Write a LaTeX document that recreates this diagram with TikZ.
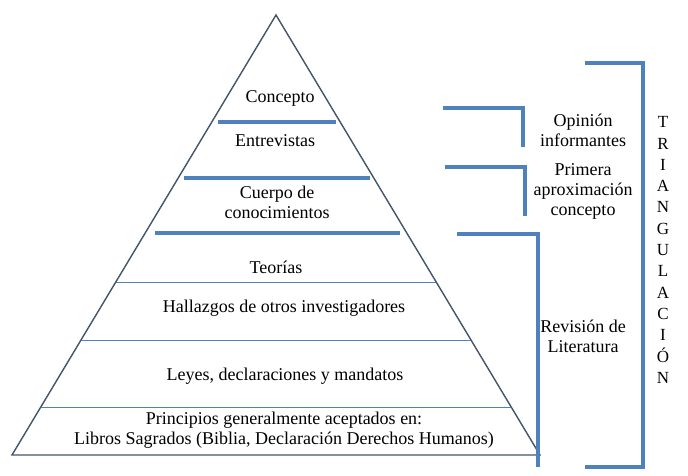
\documentclass[tikz,border=0pt]{standalone}
\usepackage{fontspec}
\setmainfont{Liberation Serif}
\definecolor{pyr}{RGB}{68,84,106}
\definecolor{brk}{RGB}{79,129,189}
\begin{document}
\begin{tikzpicture}[x=1pt,y=-1pt,every node/.style={inner sep=0,align=center,font=\fontsize{18}{20}\selectfont},
    thin line/.style={draw=brk,line width=0.8pt},
    thick line/.style={draw=brk,line width=4pt},
    bracket/.style={draw=brk,line width=4.5pt}]
    \useasboundingbox (0,0) rectangle (688,476);
    % pyramid
    \coordinate (apex) at (276,15);
    \coordinate (bl) at (12,455);
    \coordinate (br) at (540,455);
    \draw[pyr,line width=1.4pt] (apex) -- (bl) -- (br) -- cycle;
    \draw[thick line] (218,122) -- (336,122);
    \draw[thick line] (184,178) -- (370,178);
    \draw[thick line] (155,233) -- (400,233);
    \draw[thin line] (116,282) -- (436,282);
    \draw[thin line] (81,340) -- (471,340);
    \draw[thin line] (41,407) -- (511,407);
    % levels
    \node (concepto) at (280,98) {Concepto};
    \node (entrev) at (275,141) {Entrevistas};
    \node (cuerpo) at (277,202) {Cuerpo de\\conocimientos};
    \node (teorias) at (276,267) {Teorías};
    \node (hallazgos) at (284,308) {Hallazgos de otros investigadores};
    \node (leyes) at (285,376) {Leyes, declaraciones y mandatos};
    \node (princ) at (284,430) {Principios generalmente aceptados en:\\Libros Sagrados (Biblia, Declaración Derechos Humanos)};
    % brackets
    \draw[bracket] (443,108) -- (523,108) -- (523,147);
    \draw[bracket] (445,167) -- (525,167) -- (525,216);
    \draw[bracket] (457,234) -- (538,234) -- (538,467);
    \draw[bracket] (585,63) -- (643,63) -- (643,467) -- (585,467);
    \node (opinion) at (583,130) {Opinión\\informantes};
    \node (primera) at (583,191) {Primera\\aproximación\\concepto};
    \node (revision) at (583,336) {Revisión de\\Literatura};
    \node[font=\fontsize{17}{21.3}\selectfont] (triang) at (663,250) {T\\R\\I\\A\\N\\G\\U\\L\\A\\C\\I\\Ó\\N};
\end{tikzpicture}
\end{document}
